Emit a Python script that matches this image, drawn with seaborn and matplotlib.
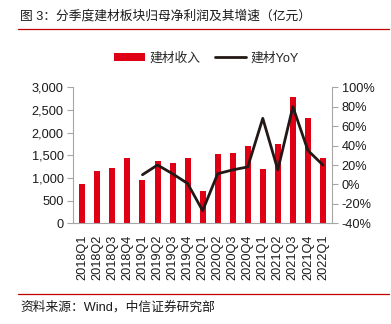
import matplotlib
matplotlib.use("Agg")
import matplotlib.pyplot as plt
import matplotlib.ticker as mticker
from matplotlib.lines import Line2D
from matplotlib.patches import Patch
import numpy as np
import pandas as pd
import seaborn as sns

quarters = ["2018Q1", "2018Q2", "2018Q3", "2018Q4", "2019Q1", "2019Q2", "2019Q3", "2019Q4",
            "2020Q1", "2020Q2", "2020Q3", "2020Q4", "2021Q1", "2021Q2", "2021Q3", "2021Q4", "2022Q1"]
profit = [870, 1150, 1210, 1430, 960, 1375, 1340, 1440,
          710, 1530, 1550, 1700, 1190, 1760, 2790, 2320, 1430]
yoy_quarters = quarters[4:]
yoy = [10, 20, 11, 1, -27, 11, 15, 18, 68, 15, 80, 35, 20]

left_ticks = [0, 500, 1000, 1500, 2000, 2500, 3000]
right_ticks = [-40, -20, 0, 20, 40, 60, 80, 100]

title = "图 3：分季度建材板块归母净利润及其增速（亿元）"
source = "资料来源：Wind，中信证券研究部"
bar_label = "建材收入"
line_label = "建材YoY"

sns.set_style("white")
FAM = ["Liberation Sans", "Noto Sans CJK SC", "DejaVu Sans"]
plt.rcParams["font.family"] = FAM
plt.rcParams["axes.unicode_minus"] = False

RED = "#DF0016"
LINE = "#231815"
GRAY = "#A6A6A6"
TXT = "#1a1a1a"

fig = plt.figure(figsize=(3.91, 3.24), dpi=100)
ax = fig.add_axes([0.1875, 0.3108, 0.849 - 0.1875, 0.7306 - 0.3108])

df_bar = pd.DataFrame({"quarter": quarters, "profit": profit})
sns.barplot(data=df_bar, x="quarter", y="profit", order=quarters, color=RED,
            saturation=1, width=0.4, ax=ax, edgecolor="none")

ax2 = ax.twinx()
pos = {q: i for i, q in enumerate(quarters)}
df_line = pd.DataFrame({"x": [pos[q] for q in yoy_quarters], "yoy": yoy})
sns.lineplot(data=df_line, x="x", y="yoy", color=LINE, linewidth=2.0, ax=ax2)

ax.set_xlim(-0.6, len(quarters) - 0.4)
ax.set_ylim(0, 3000)
ax2.set_ylim(-40, 100)
ax.set_yticks(left_ticks)
ax.yaxis.set_major_formatter(mticker.FuncFormatter(lambda v, p: f"{int(v):,}"))
ax2.set_yticks(right_ticks)
ax2.yaxis.set_major_formatter(mticker.FuncFormatter(lambda v, p: f"{int(v)}%"))

ax.set_xticks(range(len(quarters)))
ax.set_xticklabels(quarters, rotation=90)
ax.set_xticks(np.arange(-0.5, len(quarters), 1.0), minor=True)
ax.tick_params(axis="x", which="major", length=0, pad=8, labelsize=9.2, colors=TXT)
ax.tick_params(axis="x", which="minor", length=4, width=0.8, color=GRAY, direction="out")
ax.tick_params(axis="y", length=4, width=0.8, color=GRAY, labelsize=9.2, labelcolor=TXT, pad=3)
ax2.tick_params(axis="y", length=4, width=0.8, color=GRAY, labelsize=9.2, labelcolor=TXT, pad=3)

for a in (ax, ax2):
    a.set_xlabel("")
    a.set_ylabel("")
    a.spines["top"].set_visible(False)
    for s in ("left", "right", "bottom"):
        a.spines[s].set_color(GRAY)
        a.spines[s].set_linewidth(0.8)
ax.spines["right"].set_visible(False)
ax2.spines["left"].set_visible(False)
ax2.spines["bottom"].set_visible(False)
ax.grid(False)
ax2.grid(False)
if ax2.get_legend():
    ax2.get_legend().remove()

# title and decorations
fig.text(0.051, 0.951, title, fontsize=9.2, color=TXT, ha="left", va="center", family=FAM)
fig.add_artist(Line2D([0.046, 0.995], [0.9105, 0.9105], transform=fig.transFigure,
                      color="#C00000", linewidth=0.9))
fig.add_artist(Line2D([0.046, 0.995], [0.0926, 0.0926], transform=fig.transFigure,
                      color="#C00000", linewidth=0.9))
fig.text(0.051, 0.05, source, fontsize=9.2, color=TXT, ha="left", va="center", family=FAM)

handles = [Patch(facecolor=RED, edgecolor="none", label=bar_label),
           Line2D([0], [0], color=LINE, linewidth=2.0, label=line_label)]
fig.legend(handles=handles, loc="center", bbox_to_anchor=(0.528, 0.82), ncol=2,
           frameon=False, handlelength=2.4, handleheight=0.5,
           handletextpad=0.35, columnspacing=1.2, prop={"family": FAM, "size": 9.2})

fig.savefig("out.png", dpi=100)
